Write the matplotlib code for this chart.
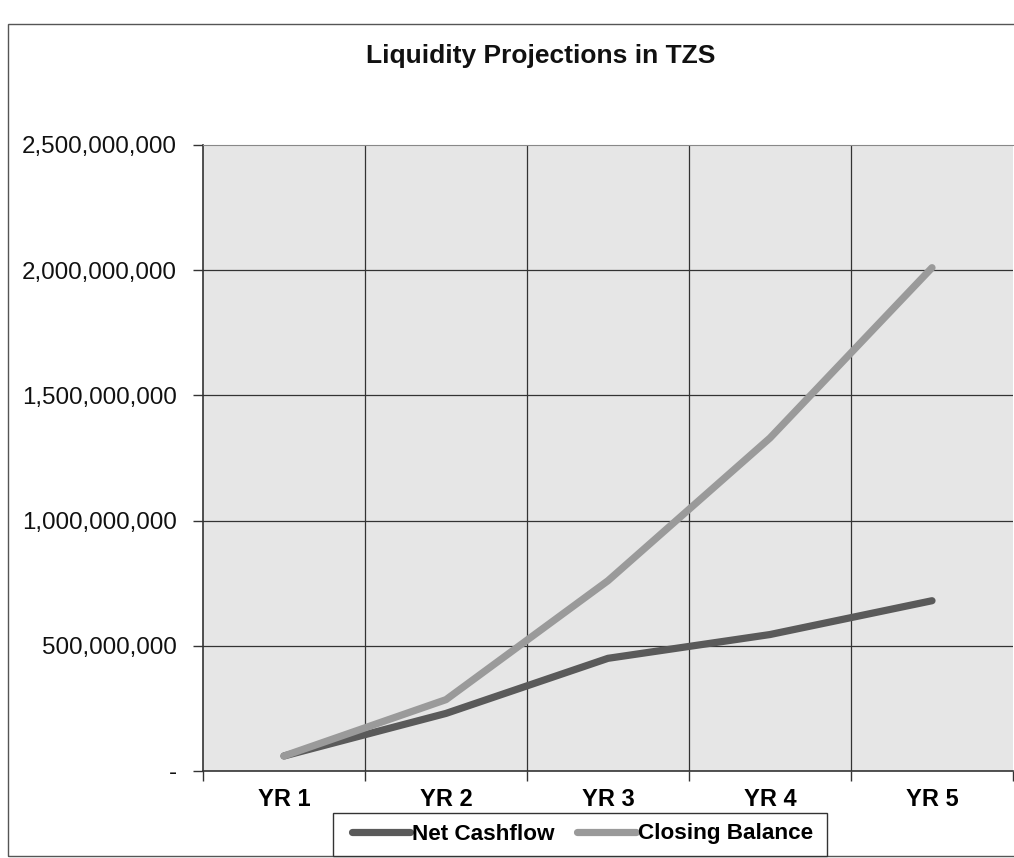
import matplotlib
matplotlib.use("Agg")
import matplotlib.pyplot as plt
from matplotlib.patches import Rectangle
from matplotlib.ticker import FuncFormatter, MultipleLocator

categories = ["YR 1", "YR 2", "YR 3", "YR 4", "YR 5"]
net_cashflow = [60e6, 230e6, 450e6, 545e6, 680e6]
closing_balance = [60e6, 285e6, 760e6, 1330e6, 2010e6]

plt.rcParams['font.family'] = ['Liberation Sans', 'DejaVu Sans']

W, H = 1014, 858
fig = plt.figure(figsize=(W / 100, H / 100), dpi=100)
fig.patch.set_facecolor('white')

# chart outer border
fig.add_artist(Rectangle((8 / W, 2 / H), 1.2, (H - 24 - 2) / H, transform=fig.transFigure,
                         fill=False, edgecolor='#555555', linewidth=1.0))

left, right, top, bottom = 203, 1013, 145, 771
ax = fig.add_axes([left / W, 1 - bottom / H, (right - left) / W, (bottom - top) / H])
ax.set_facecolor('#e6e6e6')

x = list(range(len(categories)))
ax.plot(x, net_cashflow, color='#5a5a5a', linewidth=5.2, solid_capstyle='round',
        solid_joinstyle='round', label='Net Cashflow', zorder=3)
ax.plot(x, closing_balance, color='#9a9a9a', linewidth=5.2, solid_capstyle='round',
        solid_joinstyle='round', label='Closing Balance', zorder=3)

ax.set_xlim(-0.5, len(categories) - 0.5)
ax.set_ylim(0, 2.5e9)
ax.yaxis.set_major_locator(MultipleLocator(5e8))
ax.yaxis.set_major_formatter(FuncFormatter(lambda v, p: '-' if v == 0 else f'{v:,.0f}'))
ax.set_xticks(x)
ax.set_xticklabels(categories, fontsize=17, fontweight='bold')
ax.set_xticks([i + 0.5 for i in range(-1, len(categories))], minor=True)
ax.tick_params(axis='x', which='major', length=0, pad=12)
ax.tick_params(axis='x', which='minor', length=7, width=1, color='#333333', direction='out')
ax.tick_params(axis='y', labelsize=17.4, length=7, width=1, color='#333333', pad=12, labelcolor='#111111')

ax.grid(False)
for v in [5e8, 1e9, 1.5e9, 2e9]:
    ax.axhline(v, color='#333333', linewidth=0.9, zorder=1)
for b in [0.5, 1.5, 2.5, 3.5]:
    ax.axvline(b, color='#333333', linewidth=0.9, zorder=1)

ax.spines['right'].set_visible(False)
ax.spines['top'].set_color('#888888')
ax.spines['top'].set_linewidth(0.8)
ax.spines['left'].set_color('#333333')
ax.spines['bottom'].set_color('#333333')
ax.spines['left'].set_linewidth(1.2)
ax.spines['bottom'].set_linewidth(1.2)

fig.text(541 / W, 1 - 56 / H, 'Liquidity Projections in TZS', ha='center', va='center',
         fontsize=19, fontweight='bold', color='#111111')

# legend box
fig.add_artist(Rectangle((333 / W, 1 - 856 / H), (827 - 333) / W, (856 - 813) / H,
                         transform=fig.transFigure, fill=True, facecolor='white',
                         edgecolor='#333333', linewidth=1.0, zorder=4))
leg = fig.legend(loc='center', bbox_to_anchor=(582.5 / W, 1 - 834 / H), ncol=2,
                 frameon=False, prop={'weight': 'bold', 'size': 16.2},
                 handlelength=2.6, handletextpad=0.1, columnspacing=1.0, borderpad=0.2)
leg.set_zorder(5)

fig.savefig('out.png', dpi=100, facecolor='white')
